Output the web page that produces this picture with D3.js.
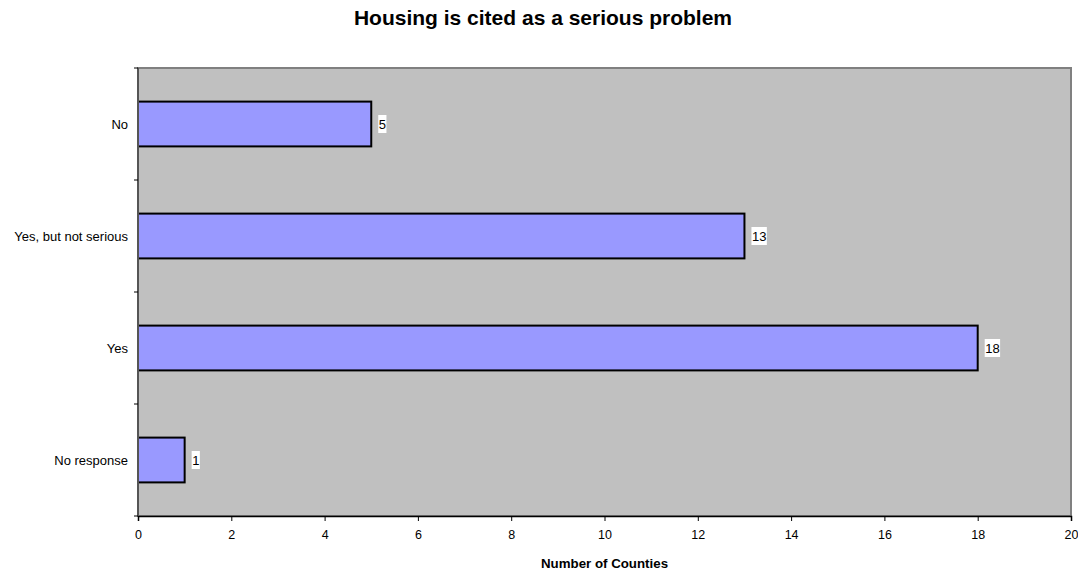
<!DOCTYPE html>
<html>
<head>
<meta charset="utf-8">
<script src="https://cdn.jsdelivr.net/npm/d3@7"></script>
<style>
  body { margin: 0; background: #fff; }
  svg { font-family: "Liberation Sans", Arial, sans-serif; }
</style>
</head>
<body>
<svg id="chart" width="1078" height="571"></svg>
<script>
// categories from top to bottom, as in the picture
const categories = ["No", "Yes, but not serious", "Yes", "No response"];
const counts = [5, 13, 18, 1];
const xTicks = [0, 2, 4, 6, 8, 10, 12, 14, 16, 18, 20];

const svg = d3.select("#chart");
const margin = { left: 138, top: 68, right: 7, bottom: 55 };
const W = 1078, H = 571;
const plotW = W - margin.left - margin.right;
const plotH = H - margin.top - margin.bottom;

const x = d3.scaleLinear().domain([0, 20]).range([0, plotW]);
const y = d3.scaleBand().domain(categories).range([0, plotH]).paddingInner(0.6).paddingOuter(0.3);

svg.append("text")
  .attr("x", 543).attr("y", 25)
  .attr("text-anchor", "middle")
  .style("font-size", "21px").style("font-weight", "bold")
  .text("Housing is cited as a serious problem");

const g = svg.append("g").attr("transform", `translate(${margin.left},${margin.top})`);

// plot background
g.append("rect")
  .attr("x", 0).attr("y", 0).attr("width", plotW).attr("height", plotH)
  .attr("fill", "#c0c0c0").attr("stroke", "#808080").attr("stroke-width", 2);

// bars
g.selectAll("rect.bar").data(categories).enter()
  .append("rect").attr("class", "bar")
  .attr("x", 0)
  .attr("y", d => y(d))
  .attr("width", (d, i) => x(counts[i]))
  .attr("height", y.bandwidth())
  .attr("fill", "#9999ff").attr("stroke", "#000").attr("stroke-width", 2);

// value labels with white boxes
const lab = g.selectAll("g.lab").data(categories).enter()
  .append("g").attr("class", "lab")
  .attr("transform", (d, i) => `translate(${x(counts[i]) + 7},${y(d) + y.bandwidth() / 2})`);
lab.append("rect")
  .attr("x", 0).attr("y", -9)
  .attr("width", (d, i) => String(counts[i]).length * 7.2 + 1).attr("height", 18)
  .attr("fill", "#fff");
lab.append("text")
  .attr("x", 0.5).attr("dy", "0.36em")
  .style("font-size", "13px")
  .text((d, i) => counts[i]);

// x axis
const xAxis = g.append("g").attr("transform", `translate(0,${plotH})`)
  .call(d3.axisBottom(x).tickValues(xTicks).tickSize(5).tickPadding(9));
xAxis.select(".domain").attr("stroke", "#000").attr("stroke-width", 1.5);
xAxis.selectAll("text").style("font-size", "12.5px").attr("fill", "#000")
  .style("font-family", "'Liberation Sans', Arial, sans-serif");

// y axis: ticks at category boundaries
g.append("line").attr("x1", 0).attr("x2", 0).attr("y1", 0).attr("y2", plotH)
  .attr("stroke", "#555").attr("stroke-width", 2);
g.selectAll("line.ytick").data(d3.range(categories.length + 1)).enter()
  .append("line").attr("class", "ytick")
  .attr("x1", -4).attr("x2", 0)
  .attr("y1", i => i * plotH / categories.length)
  .attr("y2", i => i * plotH / categories.length)
  .attr("stroke", "#000");
g.selectAll("text.ylab").data(categories).enter()
  .append("text").attr("class", "ylab")
  .attr("x", -10)
  .attr("y", d => y(d) + y.bandwidth() / 2)
  .attr("dy", "0.36em")
  .attr("text-anchor", "end")
  .style("font-size", "13px")
  .text(d => d);

svg.append("text")
  .attr("x", margin.left + plotW / 2).attr("y", 568)
  .attr("text-anchor", "middle")
  .style("font-size", "13.3px").style("font-weight", "bold")
  .text("Number of Counties");
</script>
</body>
</html>
